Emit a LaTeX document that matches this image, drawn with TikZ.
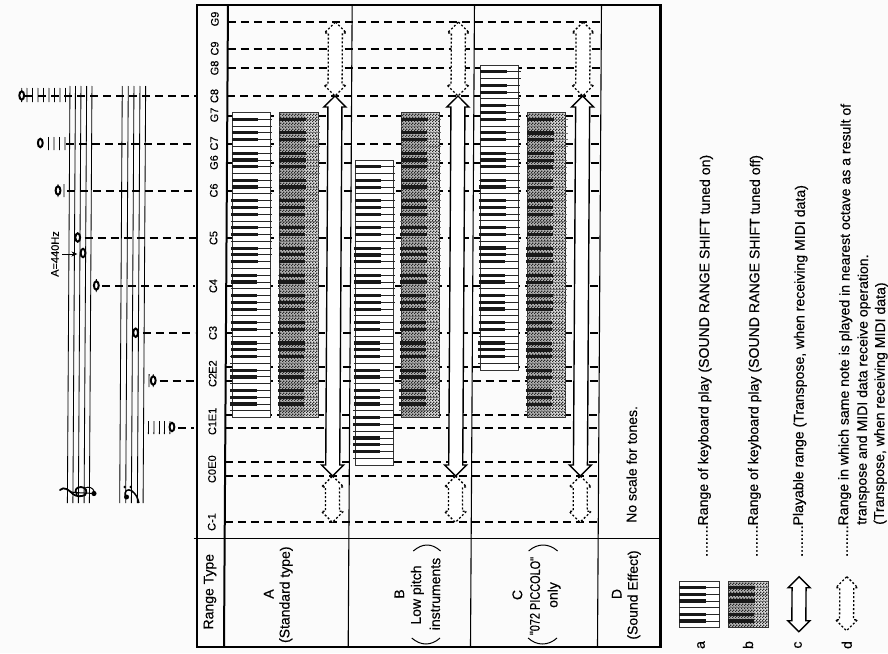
\documentclass[tikz,border=0pt]{standalone}
\usepackage{fontspec}
\setmainfont{Liberation Sans}[FakeBold=0.3]
\newfontfamily\scanfont{Liberation Sans}[FakeBold=0.3,AutoFakeBold=0.3]
\usetikzlibrary{arrows.meta,patterns}
\pgfdeclarepatternformonly{stip}{\pgfpointorigin}{\pgfpoint{3pt}{3pt}}{\pgfpoint{3pt}{3pt}}{%
  \pgfpathrectangle{\pgfpointorigin}{\pgfpoint{1.5pt}{1.5pt}}%
  \pgfpathrectangle{\pgfpoint{1.5pt}{1.5pt}}{\pgfpoint{1.5pt}{1.5pt}}%
  \pgfusepath{fill}}
\tikzset{
  tx/.style={rotate=89.64,inner sep=0pt,font=\scanfont\bfseries\fontsize{14}{16}\selectfont,align=center},
  notelabel/.style={rotate=89.64,inner sep=0pt,font=\scanfont\bfseries\fontsize{11}{12}\selectfont},
  legendtx/.style={rotate=89.64,inner sep=0pt,anchor=base west,font=\scanfont\bfseries\fontsize{14.1}{16}\selectfont},
  guide/.style={line width=1.7pt,dash pattern=on 8pt off 5pt},
  solidarr/.style={line width=1.4pt,fill=white,line join=miter},
  dotarr/.style={line width=1.3pt,fill=white,dash pattern=on 2pt off 2pt},
  rowline/.style={line width=1.1pt},
  staffline/.style={line width=.85pt},
  ledger/.style={line width=.85pt},
  notehead/.style={line width=2pt,fill=white},
  paren/.style={line width=1pt},
}
\newcommand\dblarrow[4]{% style, X, Ytop, Ybot
  \draw[#1] (#2,#3) -- ({#2+11},{#3+11}) -- ({#2+7},{#3+11}) -- ({#2+7},{#4-11}) -- ({#2+11},{#4-11})
   -- (#2,#4) -- ({#2-11},{#4-11}) -- ({#2-7},{#4-11}) -- ({#2-7},{#3+11}) -- ({#2-11},{#3+11}) -- cycle;}
\newcommand\kbd[6]{% Xleft, Ytop, whites, offset, shaded(0/1), step
  \pgfmathsetmacro\kW{40.4}
  \pgfmathsetmacro\kB{({#3})*#6+#2}
  \ifnum#5=1
    \fill[black!14] (#1,#2) rectangle ({#1+\kW},\kB);
    \fill[black!30] (#1,#2) rectangle ({#1+26},\kB);
    \fill[pattern=stip,pattern color=black!85] (#1,#2) rectangle ({#1+\kW},\kB);
  \else
    \fill[white] (#1,#2) rectangle ({#1+\kW},\kB);
  \fi
  \draw[line width=.9pt,black!80] (#1,#2) rectangle ({#1+\kW},\kB);
  \pgfmathtruncatemacro\kN{#3-1}
  \foreach \i in {1,...,\kN}{
    \pgfmathsetmacro\yy{#2+\i*#6}
    \pgfmathtruncatemacro\m{mod(\i+#4,7)}
    \ifnum#5=1 \draw[line width=.7pt,black!55] (#1,\yy) -- ({#1+\kW},\yy);
    \else \draw[line width=.9pt,black!85] (#1,\yy) -- ({#1+\kW},\yy); \fi
    \ifnum\m=2 \else\ifnum\m=5 \else
      \fill[black!90] (#1,{\yy-1.6}) rectangle ({#1+26.5},{\yy+1.6});
    \fi\fi
  }}
\newcommand\wnote[2]{\draw[notehead] (#1,#2) ellipse [x radius=2.4pt,y radius=4.2pt];}
\newcommand\ticks[3]{\foreach \xx in {#3}{\draw[ledger] (\xx,{#1}) -- (\xx,{#2});}}
\begin{document}
\begin{tikzpicture}[x={(1pt,0pt)},y={(-0.0062pt,-1pt)}]
\useasboundingbox (0pt,0pt) rectangle (888pt,-653pt);
\fill[black!1.5] (0pt,0pt) rectangle (888pt,-653pt);

% guide lines inside the table
\foreach \yy in {22,48.7,68.3,96,116,144,163,190.7,238,286,333.3,367,381,415,428.3,461.7,475.7,522.3}
  \draw[guide] (228,\yy) -- (601.5,\yy);
% guide lines from notes to the table
\draw[guide] (26,96) -- (197,96);
\draw[guide] (67,144) -- (197,144);
\draw[guide] (68,190.7) -- (197,190.7);
\draw[guide] (86,238) -- (197,238);
\draw[guide] (104,286) -- (197,286);
\draw[guide] (145,333.3) -- (197,333.3);
\draw[guide] (162,381) -- (197,381);
\draw[guide] (181,428.3) -- (197,428.3);

% staves
\foreach \xx in {70.5,76,81.5,87.2,92.5,122.8,128.8,134.5,140.5,146.2}
  \draw[staffline] (\xx,86) -- (\xx,503);

% notes and ledger lines
\ticks{88}{102}{27.6,33.1,38.6,44.1,49.6,55.1,60.6,66.1}
\draw[ledger] (22.3,88) -- (22.3,102);
\wnote{22.3}{95.5}
\ticks{137}{150}{49.4,54.9,60.4,65.9}
\wnote{41.2}{143}
\ticks{184}{197}{59.2,65.2}
\wnote{59.2}{190.5}
\wnote{79.2}{237.5}
\wnote{84.6}{253}
\draw[ledger] (98.1,279) -- (98.1,292);
\wnote{98.1}{285.5}
\wnote{137.7}{332.7}
\ticks{374}{387}{151.4,155.6}
\wnote{155.6}{380.5}
\ticks{421}{434}{151.1,156.6,162.1,167.1,172.6}
\wnote{174.6}{427}
\draw[line width=1pt,-{Stealth[length=6pt,width=5pt]}] (63.6,254) -- (79,254);
\node[notelabel] (pitch) at (56.6,254) {A=440Hz};

% treble clef
\draw[line width=1.8pt,line cap=round] (63,490) .. controls (67,486) and (72,490) .. (76,494)
   .. controls (79,496.5) and (84,497) .. (88,495) .. controls (91,492) and (89,487) .. (84,487)
   .. controls (79,487) and (77,491) .. (80,494);
\draw[line width=1pt] (74,492) .. controls (82,493) and (90,493) .. (97,493.5);
\draw[line width=1pt] (88,488) .. controls (92,486) and (96,488) .. (97,491);
\fill (97,493.5) circle (2.6pt);
% bass clef
\draw[line width=1.5pt] (129,497) .. controls (126,491) and (131,488) .. (135,491) .. controls (139,494) and (141,498) .. (142,503);
\fill (129.6,497) circle (2.5pt);
\fill (127.8,487) circle (1.4pt);
\fill (133.8,487) circle (1.4pt);

% double arrows
\dblarrow{dotarr}{335.6}{22}{96}
\dblarrow{dotarr}{335.6}{476}{522.3}
\dblarrow{dotarr}{458.6}{22}{96}
\dblarrow{dotarr}{458.6}{476}{522.3}
\dblarrow{dotarr}{583.3}{22}{96}
\dblarrow{dotarr}{583.3}{476}{522.3}
\dblarrow{solidarr}{335.6}{96}{476}
\dblarrow{solidarr}{458.6}{96}{476}
\dblarrow{solidarr}{583.3}{96}{476}

% keyboards
\kbd{232.7}{112.5}{45}{0}{0}{6.78}
\kbd{280.2}{112.5}{45}{0}{1}{6.78}
\kbd{356}{160}{45}{0}{0}{6.78}
\kbd{401.8}{112.5}{45}{0}{1}{6.78}
\kbd{480.6}{65}{45}{0}{0}{6.78}
\kbd{528}{112.7}{45}{0}{1}{6.78}

% table frame
\draw[line width=2.4pt] (197,5) rectangle (664.5,647);
\draw[line width=2pt] (228,5) -- (228,647);
\draw[line width=1.8pt] (197,538.5) -- (664.5,538.5);
\draw[rowline] (352.2,5) -- (352.2,647);
\draw[rowline] (474.5,5) -- (474.5,647);
\draw[rowline] (601.5,5) -- (601.5,647);

% note names
\node[notelabel] (G9) at (215,19) {G9};
\node[notelabel] (C9) at (215,48.5) {C9};
\node[notelabel] (G8) at (215,68) {G8};
\node[notelabel] (C8) at (215,96) {C8};
\node[notelabel] (G7) at (215,115) {G7};
\node[notelabel] (C7) at (215,143.5) {C7};
\node[notelabel] (G6) at (215,162.5) {G6};
\node[notelabel] (C6) at (215,190.5) {C6};
\node[notelabel] (C5) at (215,238) {C5};
\node[notelabel] (C4) at (215,286) {C4};
\node[notelabel] (C3) at (215,333) {C3};
\node[notelabel] (C2) at (215,380) {C2};
\node[notelabel] (E2) at (215,367) {E2};
\node[notelabel] (C1) at (215,428) {C1};
\node[notelabel] (E1) at (215,414.5) {E1};
\node[notelabel] (C0) at (215,476) {C0};
\node[notelabel] (E0) at (215,462) {E0};
\node[notelabel] (Cm) at (215,522) {C-1};

% left column texts
\node[tx] (rt) at (213.7,591.7) {Range Type};
\node[tx] (ra) at (272.4,594) {A};
\node[tx] (ra2) at (289.7,594.7) {(Standard type)};
\node[tx] (rb) at (403,594) {B};
\node[tx] (rb2) at (421,595) {Low pitch};
\node[tx] (rb3) at (438.7,594) {instruments};
\node[tx] (rc) at (521,595) {C};
\node[tx] (rc2) at (538.7,596) {\scalebox{.78}[1]{"072 PICCOLO"}};
\node[tx] (rc3) at (557.7,595) {only};
\node[tx] (rd) at (620.4,594) {D};
\node[tx] (rd2) at (637.7,595) {(Sound Effect)};
\node[tx] (rno) at (634.6,464.4) {No scale for tones.};

% big brackets
\draw[paren] (415.7,638) .. controls (425,646) and (435,646) .. (444,638);
\draw[paren] (416.7,551) .. controls (426,543) and (435,543) .. (444,551);
\draw[paren] (532,638) .. controls (541,646) and (552,646) .. (561,638);
\draw[paren] (532,551) .. controls (541,543) and (552,543) .. (561,551);

% legend
\kbd{683.1}{581}{7}{5}{0}{6.67}
\kbd{731.8}{581}{7}{5}{1}{6.67}
\dblarrow{solidarr}{802.7}{576.7}{631.7}
\dblarrow{dotarr}{850.4}{576.7}{630.7}
\node[tx] (la) at (705,645) {a};
\node[tx] (lb) at (752,645) {b};
\node[tx] (lc) at (802,645) {c};
\node[tx] (ld) at (850.7,645) {d};
\node[legendtx] (t1) at (711,557) {........Range of keyboard play (SOUND RANGE SHIFT tuned on)};
\node[legendtx] (t2) at (761,557) {........Range of keyboard play (SOUND RANGE SHIFT tuned off)};
\node[legendtx] (t3) at (806.2,557) {........Playable range (Transpose, when receiving MIDI data)};
\node[legendtx] (t4) at (851.3,557) {........Range in which same note is played in nearest octave as a result of};
\node[legendtx] (t5) at (869.6,525) {transpose and MIDI data receive operation.};
\node[legendtx] (t6) at (887,525) {(Transpose, when receiving MIDI data)};
\end{tikzpicture}
\end{document}
